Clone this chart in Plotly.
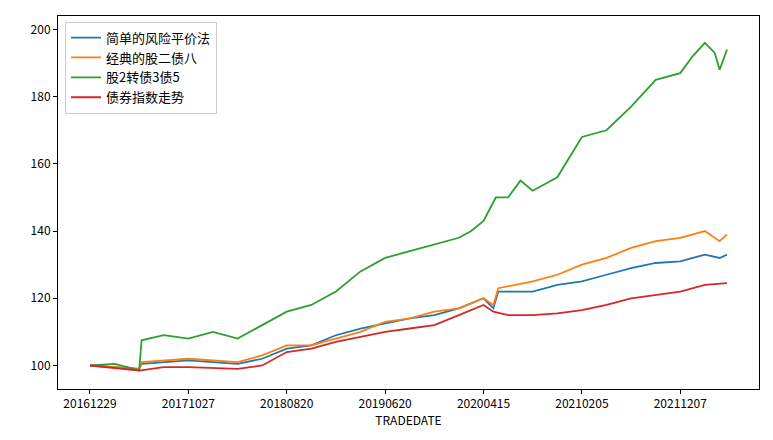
import plotly.graph_objects as go

tick_idx = [0, 200, 400, 600, 800, 1000, 1200]
tick_labels = ["20161229", "20171027", "20180820", "20190620", "20200415", "20210205", "20211207"]

green_x = [0,50,90,100,105,150,200,250,300,350,400,450,500,550,600,650,700,750,775,800,825,850,875,900,950,975,1000,1050,1100,1150,1200,1225,1250,1270,1280,1295]
green_y = [100,100.5,99,98.5,107.5,109,108,110,108,112,116,118,122,128,132,134,136,138,140,143,150,150,155,152,156,162,168,170,177,185,187,192,196,193,188,194]

ox = [0,100,105,200,300,350,400,450,500,550,600,650,700,750,800,820,830,900,950,1000,1050,1100,1150,1200,1250,1280,1295]
orange_y = [100,99,101,102,101,103,106,106,108,110,113,114,116,117,120,118,123,125,127,130,132,135,137,138,140,137,139]
blue_y = [100,99,100.5,101.5,100.5,102,105,106,109,111,112.5,114,115,117,120,117,122,122,124,125,127,129,130.5,131,133,132,133]

red_x = [0,100,150,200,300,350,400,450,500,550,600,650,700,750,800,820,850,900,950,1000,1050,1100,1150,1200,1250,1295]
red_y = [100,98.5,99.5,99.5,99,100,104,105,107,108.5,110,111,112,115,118,116,115,115,115.5,116.5,118,120,121,122,124,124.5]

fig = go.Figure()
fig.add_trace(go.Scatter(x=ox, y=blue_y, name="简单的风险平价法", mode="lines", line=dict(color="#1f77b4", width=1.8)))
fig.add_trace(go.Scatter(x=ox, y=orange_y, name="经典的股二债八", mode="lines", line=dict(color="#ff7f0e", width=1.8)))
fig.add_trace(go.Scatter(x=green_x, y=green_y, name="股2转债3债5", mode="lines", line=dict(color="#2ca02c", width=1.8)))
fig.add_trace(go.Scatter(x=red_x, y=red_y, name="债券指数走势", mode="lines", line=dict(color="#d62728", width=1.8)))

axis = dict(showgrid=False, zeroline=False, showline=True, linecolor="black", mirror=True,
            ticks="outside", ticklen=4, tickcolor="black", tickfont=dict(size=12, color="black"))
fig.update_layout(
    width=773, height=440, plot_bgcolor="white", paper_bgcolor="white",
    margin=dict(l=50, r=22, t=8, b=59),
    font=dict(family="Noto Sans CJK SC", color="black"),
    xaxis=dict(axis, range=[-65, 1360], tickvals=tick_idx, ticktext=tick_labels,
               title=dict(text="TRADEDATE", font=dict(size=12), standoff=2)),
    yaxis=dict(axis, range=[93, 204], tickvals=[100,120,140,160,180,200]),
    legend=dict(x=0.01, y=0.985, xanchor="left", yanchor="top", bordercolor="#cccccc",
                borderwidth=1, bgcolor="rgba(255,255,255,0.8)", font=dict(size=13)),
)
fig.write_html("out.html")
